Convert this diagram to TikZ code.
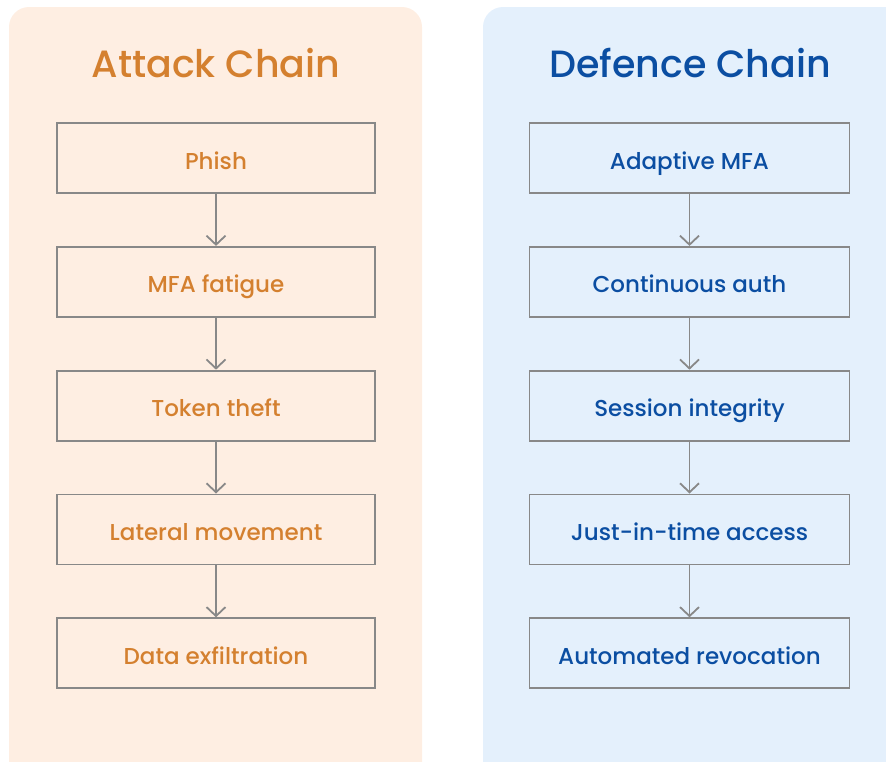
\documentclass[tikz,border=0pt]{standalone}
\usepackage{fontspec}
\setmainfont{Poppins}
\newfontfamily\medfont{Poppins Medium}
\usetikzlibrary{positioning,arrows.meta}
\definecolor{attackfg}{HTML}{D4802F}
\definecolor{attackbg}{HTML}{FEEEE2}
\definecolor{defencefg}{HTML}{0B4EA2}
\definecolor{defencebg}{HTML}{E4F0FC}
\definecolor{boxgray}{HTML}{888888}
\tikzset{
  panel/.style={rounded corners=20pt},
  title/.style={font=\medfont\fontsize{38}{44}\selectfont},
  stepbox/.style={draw=boxgray,line width=1.8pt,minimum width=318pt,minimum height=70pt,
    inner sep=0pt,text height=22pt,text depth=0pt,font=\medfont\fontsize{23}{28}\selectfont},
  flow/.style={draw=boxgray,line width=1.8pt,-{Straight Barb[length=9pt,width=19pt]}},
}

\begin{document}
\begin{tikzpicture}[x=1pt,y=-1pt]
\useasboundingbox (0,0) rectangle (886,761);
\clip (0,0) rectangle (886,761);

% background panels
\fill[attackbg,panel] (9,7) rectangle (422,785);
\fill[defencebg,panel] (483,7) rectangle (910,785);

% titles
\node[title,text=attackfg] (atitle) at (216,63) {Attack Chain};
\node[title,text=defencefg] (dtitle) at (690,63) {Defence Chain};

% attack chain
\node[stepbox,text=attackfg] (a1) at (216,158) {Phish};
\foreach \i/\t [remember=\i as \j (initially 1)] in
  {2/MFA fatigue,3/Token theft,4/Lateral movement,5/Data exfiltration}{
  \node[stepbox,text=attackfg,below=52pt of a\j] (a\i) {\t};
}

% defence chain
\node[stepbox,text=defencefg,minimum width=320pt] (d1) at (689.5,158) {Adaptive MFA};
\foreach \i/\t [remember=\i as \j (initially 1)] in
  {2/Continuous auth,3/Session integrity,4/Just-in-time access,5/Automated revocation}{
  \node[stepbox,text=defencefg,minimum width=320pt,below=52pt of d\j] (d\i) {\t};
}

% arrows between steps
\foreach \i [evaluate=\i as \k using int(\i+1)] in {1,...,4}{
  \draw[flow] (a\i) -- (a\k);
  \draw[flow] (d\i) -- (d\k);
}
\end{tikzpicture}
\end{document}
